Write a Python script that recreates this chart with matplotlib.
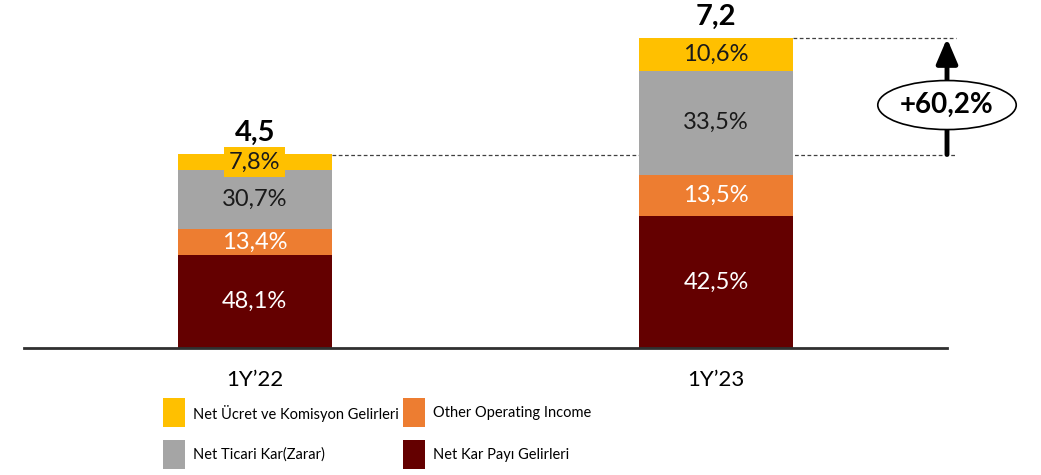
import matplotlib.pyplot as plt
from matplotlib.patches import Ellipse, Rectangle

# data
periods = ["1Y’22", "1Y’23"]
totals = [4.5, 7.2]
kar_payi = [48.1, 42.5]       # Net Kar Payı Gelirleri (%)
other_income = [13.4, 13.5]   # Other Operating Income (%)
ticari = [30.7, 33.5]         # Net Ticari Kar(Zarar) (%)
ucret = [7.8, 10.6]           # Net Ücret ve Komisyon Gelirleri (%)
growth_label = "+60,2%"

series_names = ["Net Kar Payı Gelirleri", "Other Operating Income",
                "Net Ticari Kar(Zarar)", "Net Ücret ve Komisyon Gelirleri"]
series_vals = [kar_payi, other_income, ticari, ucret]
colors = ["#640000", "#ED7D31", "#A5A5A5", "#FFC000"]
text_colors = ["white", "white", "#1a1a1a", "#1a1a1a"]

plt.rcParams['font.family'] = ['Lato', 'DejaVu Sans']

W, H = 1041, 475
fig = plt.figure(figsize=(W / 100, H / 100), dpi=100)
ax = fig.add_axes([24 / W, 127 / H, 923 / W, 348 / H])

x = [0, 1]
bar_w = 0.333
bottoms = [0.0, 0.0]
for name, vals, col, tcol in zip(series_names, series_vals, colors, text_colors):
    heights = [t * v / 100 for t, v in zip(totals, vals)]
    ax.bar(x, heights, bar_w, bottom=bottoms, color=col, edgecolor="none", zorder=2)
    for i in range(2):
        yc = bottoms[i] + heights[i] / 2
        label = f"{vals[i]:.1f}%".replace(".", ",")
        kw = {}
        if heights[i] < 0.5:
            kw["bbox"] = dict(boxstyle="square,pad=0.2", fc=col, ec="none")
        ax.text(x[i], yc, label, ha="center", va="center", color=tcol,
                fontsize=17, zorder=4, **kw)
    bottoms = [b + h for b, h in zip(bottoms, heights)]

# totals above bars
for i in range(2):
    ax.annotate(f"{totals[i]:.1f}".replace(".", ","), (x[i], totals[i]),
                xytext=(0, 6), textcoords="offset points", ha="center",
                va="bottom", fontsize=21, fontweight="bold", annotation_clip=False)

# dashed guide lines and growth arrow
arrow_x = 1.5
ax.plot([x[0] + bar_w / 2, 1.52], [totals[0]] * 2, ls=(0, (3, 2)),
        color="#404040", lw=0.9, clip_on=False, zorder=1)
ax.plot([x[1] + bar_w / 2, 1.52], [totals[1]] * 2, ls=(0, (3, 2)),
        color="#404040", lw=0.9, clip_on=False, zorder=1)
ax.annotate("", xy=(arrow_x, totals[1]), xytext=(arrow_x, totals[0]),
            arrowprops=dict(arrowstyle="-|>,head_width=0.32,head_length=0.75",
                            mutation_scale=20, lw=3.5, color="black",
                            shrinkA=0, shrinkB=0),
            annotation_clip=False, zorder=3)
ell_y = (totals[0] + totals[1]) / 2 - 0.2
ax.add_patch(Ellipse((arrow_x, ell_y), 0.30, 1.14, fc="white", ec="black",
                     lw=1.2, clip_on=False, zorder=5))
ax.text(arrow_x, ell_y, growth_label, ha="center", va="center", fontsize=20,
        fontweight="bold", zorder=6)

ax.set_xlim(-0.5, 1.5)
ax.set_ylim(0, 348 / 43)
for s in ["top", "right", "left"]:
    ax.spines[s].set_visible(False)
ax.spines["bottom"].set_linewidth(2)
ax.spines["bottom"].set_color("#303030")
ax.set_yticks([])
ax.set_xticks(x)
ax.set_xticklabels(periods, fontsize=16)
ax.tick_params(axis="x", length=0, pad=16)

# legend drawn by hand (two columns, two rows)
def px(xp, yp):
    return xp / W, 1 - yp / H

legend_items = [(series_names[3], colors[3], 163, 398),
                (series_names[1], colors[1], 403, 398),
                (series_names[2], colors[2], 163, 440),
                (series_names[0], colors[0], 403, 440)]
for name, col, lx, ly in legend_items:
    x0, y0 = px(lx, ly + 29)
    fig.add_artist(Rectangle((x0, y0), 22 / W, 29 / H, fc=col, ec="none",
                             transform=fig.transFigure))
    tx, ty = px(lx + 30, ly + 15)
    fig.text(tx, ty, name, ha="left", va="center", fontsize=10.5)

fig.savefig("out.png", dpi=100)
